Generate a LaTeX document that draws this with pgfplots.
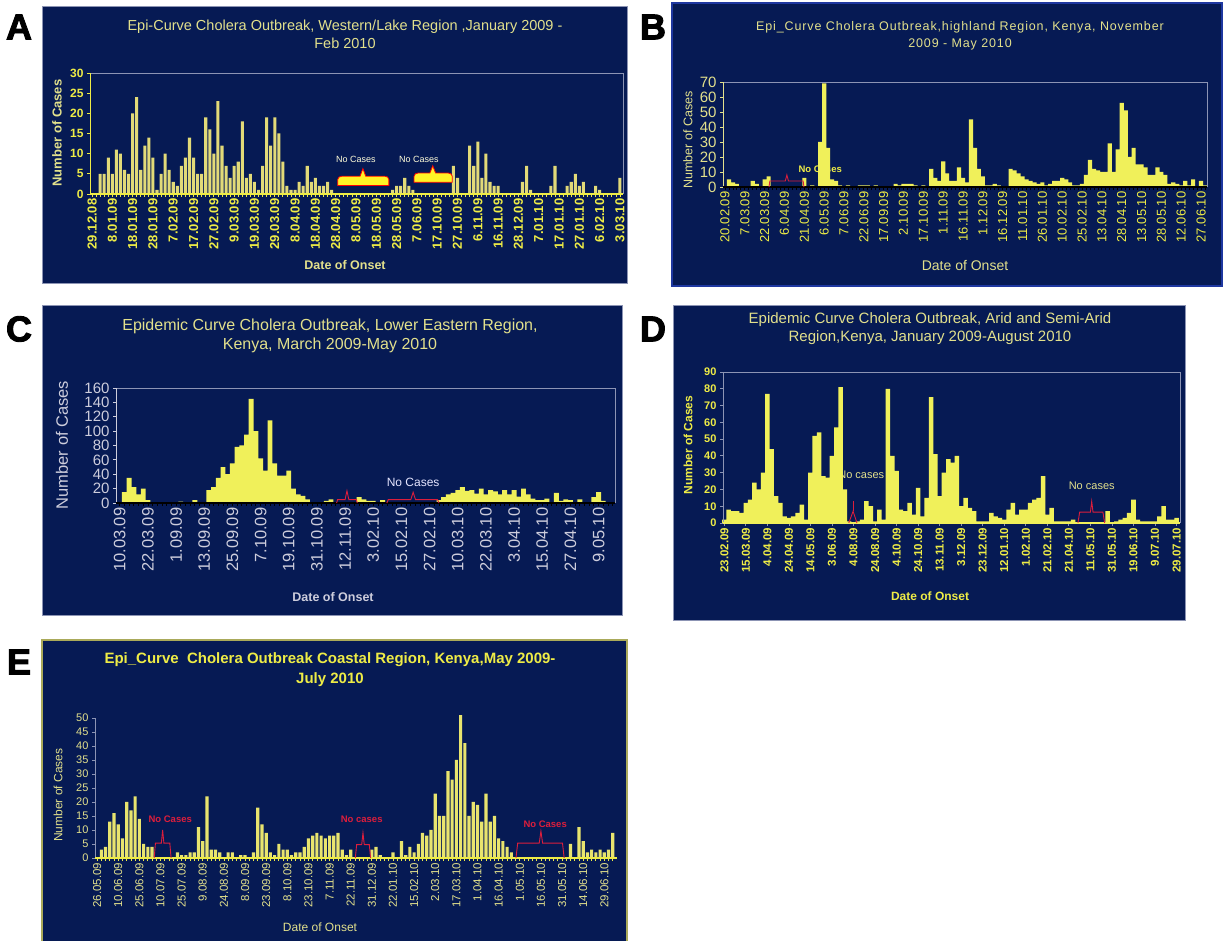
\documentclass[border=0pt]{standalone}
\usepackage{fontspec}
\setmainfont{Liberation Sans}
\usepackage{pgfplots}
\usepackage{pgfplotstable}
\pgfplotsset{compat=1.18}
\definecolor{navy}{RGB}{6,26,84}
\definecolor{baryel}{RGB}{240,240,90}
\definecolor{bara}{RGB}{226,218,120}
\definecolor{bare}{RGB}{232,228,110}
\definecolor{tityel}{RGB}{226,224,140}
\definecolor{tickyel}{RGB}{238,236,70}
\definecolor{framec}{RGB}{140,148,180}
\definecolor{nored}{RGB}{220,30,60}
\definecolor{ltgray}{RGB}{205,205,220}
\definecolor{boxblue}{RGB}{30,55,160}
\definecolor{boxolive}{RGB}{170,170,90}
\newcommand{\fs}[1]{\fontsize{#1}{#1}\selectfont}
\newcommand{\fsl}[2]{\fontsize{#1}{#2}\selectfont}
\newfontfamily\heavy{Liberation Sans}[FakeBold=2.5]

\pgfplotstableread[row sep=\\,header=false]{0\\0\\5\\5\\9\\5\\11\\10\\6\\5\\20\\24\\6\\12\\14\\9\\1\\5\\10\\6\\3\\2\\7\\9\\14\\9\\5\\5\\19\\16\\10\\23\\12\\7\\4\\7\\8\\18\\4\\5\\3\\1\\7\\19\\12\\19\\15\\8\\2\\1\\1\\3\\2\\7\\3\\4\\2\\2\\3\\1\\0\\0\\0\\0\\0\\0\\0\\0\\0\\0\\0\\0\\0\\0\\1\\2\\2\\4\\2\\1\\0\\0\\0\\0\\0\\0\\0\\0\\0\\7\\4\\0\\0\\12\\7\\13\\4\\10\\3\\2\\2\\0\\0\\0\\0\\0\\3\\7\\1\\0\\0\\0\\0\\2\\7\\0\\0\\2\\3\\5\\2\\3\\0\\0\\2\\1\\0\\0\\0\\0\\4\\}\dataA

\pgfplotstableread[row sep=\\,header=false]{0\\5\\3\\2\\0\\0\\0\\4\\2\\0\\5\\7\\0\\0\\0\\0\\0\\0\\0\\0\\6\\0\\1\\0\\30\\69\\26\\5\\4\\1\\0\\1\\0\\0\\1\\1\\1\\0\\1\\0\\0\\0\\0\\2\\1\\2\\2\\2\\1\\0\\1\\0\\12\\6\\4\\17\\9\\4\\4\\13\\6\\3\\45\\26\\12\\7\\1\\1\\2\\1\\0\\0\\12\\11\\9\\7\\5\\4\\3\\2\\3\\1\\2\\4\\4\\6\\5\\3\\1\\1\\2\\8\\18\\12\\11\\10\\10\\29\\10\\25\\56\\51\\20\\26\\15\\15\\13\\8\\8\\13\\10\\8\\2\\3\\2\\1\\4\\1\\5\\0\\4\\1\\}\dataB

\pgfplotstableread[row sep=\\,header=false]{0\\15\\35\\22\\12\\20\\4\\0\\0\\0\\0\\0\\0\\2\\0\\0\\4\\0\\0\\18\\22\\35\\50\\40\\55\\78\\80\\95\\145\\100\\62\\45\\115\\55\\38\\38\\45\\20\\12\\10\\5\\0\\0\\0\\3\\5\\0\\0\\0\\0\\0\\8\\5\\3\\3\\0\\4\\0\\0\\0\\0\\0\\0\\0\\0\\0\\0\\0\\4\\8\\12\\14\\18\\22\\17\\18\\13\\20\\12\\18\\16\\12\\18\\12\\18\\9\\20\\12\\6\\4\\4\\6\\1\\14\\3\\5\\4\\1\\5\\1\\1\\8\\15\\3\\0\\0\\}\dataC

\pgfplotstableread[row sep=\\,header=false]{2\\8\\7\\7\\6\\12\\14\\24\\20\\30\\77\\44\\16\\12\\4\\3\\4\\6\\11\\2\\30\\52\\54\\28\\27\\40\\57\\81\\20\\1\\0\\1\\2\\13\\10\\1\\8\\2\\80\\40\\31\\8\\7\\12\\5\\21\\4\\15\\75\\41\\16\\30\\38\\36\\40\\10\\15\\9\\7\\1\\1\\1\\6\\4\\3\\2\\8\\12\\5\\8\\8\\12\\14\\15\\28\\5\\9\\1\\1\\1\\1\\2\\0\\0\\0\\0\\0\\0\\0\\7\\0\\1\\2\\3\\6\\14\\2\\1\\1\\1\\1\\4\\10\\2\\2\\3\\}\dataD

\pgfplotstableread[row sep=\\,header=false]{0\\3\\4\\13\\16\\12\\7\\20\\17\\22\\14\\5\\4\\4\\0\\0\\0\\0\\0\\2\\1\\1\\2\\2\\11\\6\\22\\3\\3\\2\\0\\2\\2\\0\\1\\1\\0\\2\\18\\12\\9\\2\\1\\5\\3\\3\\1\\2\\2\\4\\7\\8\\9\\8\\7\\8\\8\\9\\3\\1\\3\\0\\0\\0\\0\\3\\4\\1\\0\\0\\2\\0\\6\\1\\4\\2\\5\\9\\8\\10\\23\\15\\15\\31\\28\\35\\51\\41\\15\\20\\19\\13\\23\\13\\15\\7\\6\\4\\2\\0\\0\\0\\0\\0\\0\\0\\0\\0\\0\\0\\0\\0\\5\\0\\11\\6\\2\\3\\2\\3\\2\\3\\9\\}\dataE

\pgfplotsset{
 epi/.style={scale only axis, anchor=south west, ymin=0, clip=false,
   axis line style={draw=none}, tick align=outside, tick pos=left,
   /pgf/number format/assume math mode=true,
   xticklabel style={rotate=90, anchor=east, inner sep=1.5pt},
   major tick length=3pt, minor tick length=3pt,
 },
}

\begin{document}
\begin{tikzpicture}[x=1pt,y=1pt]
\fill[white] (0,0) rectangle (1225,941);
\useasboundingbox (0,0) rectangle (1225,941);

% panel boxes
\filldraw[fill=navy, draw=framec, line width=0.8pt] (42,658) rectangle (627,935);
\filldraw[fill=navy, draw=boxblue, line width=2pt] (672,655) rectangle (1222,938);
\filldraw[fill=navy, draw=framec, line width=0.8pt] (42,326) rectangle (622,636);
\filldraw[fill=navy, draw=framec, line width=0.8pt] (673,321) rectangle (1185,636);
\filldraw[fill=navy, draw=boxolive, line width=1.2pt] (42,-3) rectangle (627,301);

% panel letters
\node[font=\heavy\bfseries\fs{36}] at (19,914) {A};
\node[font=\heavy\bfseries\fs{36}] at (653,914) {B};
\node[font=\heavy\bfseries\fs{36}] at (19,612) {C};
\node[font=\heavy\bfseries\fs{36}] at (653,612) {D};
\node[font=\heavy\bfseries\fs{36}] at (19,279) {E};

% ---------------- Panel A ----------------
\node[text=tityel, font=\fsl{14.5}{18}, align=center] at (345,907) {Epi-Curve Cholera Outbreak, Western/Lake Region ,January 2009 -\\Feb 2010};
\node[text=tityel, font=\bfseries\fs{13}, rotate=90] at (57,808) {Number of Cases};
\node[text=tityel, font=\bfseries\fs{12.5}] at (345,676) {Date of Onset};
\begin{axis}[epi, at={(90pt,747pt)}, width=533pt, height=121pt,
  xmin=-0.5, xmax=130.75, ymax=30, ytick={0,5,...,30},
  xtick={0,5,...,130},
  xticklabels={29.12.08,8.01.09,18.01.09,28.01.09,7.02.09,17.02.09,27.02.09,9.03.09,19.03.09,29.03.09,8.04.09,18.04.09,28.04.09,8.05.09,18.05.09,28.05.09,7.06.09,17.10.09,27.10.09,6.11.09,16.11.09,28.12.09,7.01.10,17.01.10,27.01.10,6.02.10,3.03.10},
  minor xtick={0,...,130},
  tick style={draw=tickyel, line width=0.8pt},
  xticklabel style={font=\bfseries\fs{13}, text=tickyel},
  yticklabel style={font=\bfseries\fs{12}, text=tickyel},
]
\addplot[ybar, bar width=0.75, fill=bara, draw=none] table[x expr=\coordindex, y index=0] {\dataA};
\draw[framec, line width=0.8pt] (rel axis cs:0,1) -- (rel axis cs:1,1) -- (rel axis cs:1,0);
\draw[tickyel, line width=1pt] (rel axis cs:0,0) -- (rel axis cs:0,1);
\draw[tickyel, line width=1.2pt] (rel axis cs:0,0) -- (rel axis cs:1,0);
\filldraw[fill=yellow!85!white, draw=red, line width=0.8pt] (60.5,2.1) -- (60.5,3.6) to[out=90,in=180] (61.5,4.4) -- (66,4.4) -- (66.7,6.3) -- (67.4,4.4) -- (72.1,4.4) to[out=0,in=90] (73.1,3.6) -- (73.1,2.1) -- cycle;
\filldraw[fill=yellow!85!white, draw=red, line width=0.8pt] (79.3,2.9) -- (79.3,4.4) to[out=90,in=180] (80.3,5.2) -- (83.2,5.2) -- (83.9,7) -- (84.6,5.2) -- (87.7,5.2) to[out=0,in=90] (88.7,4.4) -- (88.7,2.9) -- cycle;
\node[text=white!85!yellow, font=\fs{9}] at (65,8.6) {No Cases};
\node[text=white!85!yellow, font=\fs{9}] at (80.5,8.6) {No Cases};
\end{axis}

% ---------------- Panel B ----------------
\node[text=tityel, font=\fsl{12.5}{17}\addfontfeature{LetterSpace=7}, align=center] at (960,905.5) {Epi\_Curve Cholera Outbreak,highland Region, Kenya, November\\2009 - May 2010};
\node[text=tityel, font=\fs{12.5}, rotate=90] at (688,801) {Number of Cases};
\node[text=tityel, font=\fs{14}] at (965,675) {Date of Onset};
\begin{axis}[epi, at={(723pt,754pt)}, width=484pt, height=105pt,
  xmin=-0.5, xmax=121.5, ymax=70, ytick={0,10,...,70},
  xtick={0,5,...,120},
  xticklabels={20.02.09,7.03.09,22.03.09,6.04.09,21.04.09,6.05.09,7.06.09,22.06.09,17.09.09,2.10.09,17.10.09,1.11.09,16.11.09,1.12.09,16.12.09,11.01.10,26.01.10,10.02.10,25.02.10,13.04.10,28.04.10,13.05.10,28.05.10,12.06.10,27.06.10},
  minor xtick={0,...,121},
  tick style={draw=black, line width=0.8pt},
  every major y tick/.style={draw=tityel, line width=0.8pt},
  xticklabel style={font=\fs{13}, text=tickyel},
  yticklabel style={font=\fs{15}, text=tityel},
]
\node[text=tickyel, font=\bfseries\fs{9.5}] at (24,12) {No Cases};
\addplot[ybar, bar width=1.05, fill=baryel, draw=none] table[x expr=\coordindex, y index=0] {\dataB};
\draw[framec, line width=0.8pt] (rel axis cs:0,1) -- (rel axis cs:1,1) -- (rel axis cs:1,0);
\draw[tityel, line width=0.8pt] (rel axis cs:0,0) -- (rel axis cs:0,1);
\draw[black, line width=2.2pt] (rel axis cs:0,0) -- (rel axis cs:1,0);
\draw[nored, line width=0.9pt] (11.1,0) -- (11.3,4) -- (15.2,4) -- (15.6,8) -- (16,4) -- (19.7,4) -- (19.9,0);
\end{axis}

% ---------------- Panel C ----------------
\node[text=tityel, font=\fsl{16}{19}, align=center] at (330,605.5) {Epidemic Curve Cholera Outbreak, Lower Eastern Region,\\Kenya, March 2009-May 2010};
\node[text=ltgray, font=\fs{16.5}, rotate=90] at (62,496) {Number of Cases};
\node[text=ltgray, font=\bfseries\fs{12.5}] at (333,344) {Date of Onset};
\begin{axis}[epi, at={(116pt,438pt)}, width=499pt, height=115pt,
  xmin=-0.8, xmax=105.5, ymax=160, ytick={0,20,...,160},
  xtick={0,6,...,102},
  xticklabels={10.03.09,22.03.09,1.09.09,13.09.09,25.09.09,7.10.09,19.10.09,31.10.09,12.11.09,3.02.10,15.02.10,27.02.10,10.03.10,22.03.10,3.04.10,15.04.10,27.04.10,9.05.10},
  minor xtick={0,...,105},
  tick style={draw=black, line width=0.8pt},
  every major y tick/.style={draw=ltgray, line width=0.8pt},
  xticklabel style={font=\fs{16.5}, text=ltgray},
  yticklabel style={font=\fs{15}, text=ltgray},
]
\addplot[ybar, bar width=1.05, fill=baryel, draw=none] table[x expr=\coordindex, y index=0] {\dataC};
\draw[framec, line width=0.8pt] (rel axis cs:0,1) -- (rel axis cs:1,1) -- (rel axis cs:1,0);
\draw[ltgray, line width=0.8pt] (rel axis cs:0,0) -- (rel axis cs:0,1);
\draw[black, line width=2.2pt] (rel axis cs:0,0) -- (rel axis cs:1,0);
\draw[nored, line width=0.9pt] (46.2,0) -- (46.4,4.7) -- (48,4.7) -- (48.4,17) -- (48.8,4.7) -- (50.4,4.7) -- (50.6,0);
\draw[nored, line width=0.9pt] (56.9,0) -- (57.2,4.7) -- (62,4.7) -- (62.5,15) -- (63,4.7) -- (67.7,4.7) -- (68,0);
\node[text=white!90!blue, font=\fs{12}] at (62.5,28) {No Cases};
\end{axis}

% ---------------- Panel D ----------------
\node[text=tityel, font=\fsl{15}{18}, align=center] at (930,612) {Epidemic Curve Cholera Outbreak, Arid and Semi-Arid\\Region,Kenya, January 2009-August 2010};
\node[text=tickyel, font=\bfseries\fs{12}, rotate=90] at (688,496) {Number of Cases};
\node[text=tickyel, font=\bfseries\fs{12}] at (930,345) {Date of Onset};
\begin{axis}[epi, at={(723pt,418pt)}, width=457pt, height=151pt,
  xmin=-0.3, xmax=105.8, ymax=90, ytick={0,10,...,90},
  xtick={0,5,...,105},
  xticklabels={23.02.09,15.03.09,4.04.09,24.04.09,14.05.09,3.06.09,4.08.09,24.08.09,4.10.09,24.10.09,13.11.09,3.12.09,23.12.09,12.01.10,1.02.10,21.02.10,21.04.10,11.05.10,31.05.10,19.06.10,9.07.10,29.07.10},
  tick style={draw=framec, line width=0.8pt},
  xticklabel style={font=\bfseries\fs{11.5}, text=tickyel},
  yticklabel style={font=\bfseries\fs{11}, text=tickyel},
]
\node[text=tityel, font=\fs{11}] at (31.8,28.7) {No cases};
\addplot[ybar, bar width=1.05, fill=baryel, draw=none] table[x expr=\coordindex, y index=0] {\dataD};
\draw[framec, line width=0.8pt] (rel axis cs:0,1) -- (rel axis cs:1,1) -- (rel axis cs:1,0);
\draw[framec, line width=0.8pt] (rel axis cs:0,0) -- (rel axis cs:0,1);
\draw[baryel, line width=1.5pt] (rel axis cs:0,0) -- (rel axis cs:1,0);
\draw[nored, line width=0.9pt] (28.9,0) -- (29.9,7) -- (30.8,0);
\draw[nored, line width=0.9pt] (29.9,7) -- (29.9,13);
\draw[nored, line width=0.9pt] (82.1,0) -- (82.5,6.5) -- (85,6.5) -- (85.3,12.9) -- (85.6,6.5) -- (87.9,6.5) -- (88.3,0);
\node[text=tityel, font=\fs{11}] at (85.3,22) {No cases};
\end{axis}

% ---------------- Panel E ----------------
\node[text=tickyel, font=\bfseries\fsl{15}{20}, align=center] at (330,271) {Epi\_Curve\ \ Cholera Outbreak Coastal Region, Kenya,May 2009-\\July 2010};
\node[text=tityel, font=\fs{12}, rotate=90] at (58,146) {Number of Cases};
\node[text=tityel, font=\fs{12}] at (320,14) {Date of Onset};
\begin{axis}[epi, at={(95pt,83pt)}, width=522pt, height=140pt,
  xmin=-0.5, xmax=123, ymax=50, ytick={0,5,...,50},
  xtick={0,5,...,120},
  xticklabels={26.05.09,10.06.09,25.06.09,10.07.09,25.07.09,9.08.09,24.08.09,8.09.09,23.09.09,8.10.09,23.10.09,7.11.09,22.11.09,31.12.09,22.01.10,15.02.10,2.03.10,17.03.10,1.04.10,16.04.10,1.05.10,16.05.10,31.05.10,14.06.10,29.06.10},
  minor xtick={0,...,122},
  tick style={draw=tickyel, line width=0.8pt},
  every major y tick/.style={draw=framec, line width=0.8pt},
  xticklabel style={font=\fs{11.5}, text=tityel},
  yticklabel style={font=\fs{11}, text=tityel},
]
\addplot[ybar, bar width=0.75, fill=bare, draw=none] table[x expr=\coordindex, y index=0] {\dataE};
\draw[framec, line width=0.8pt] (rel axis cs:0,0) -- (rel axis cs:0,1);
\draw[tickyel, line width=1.2pt] (rel axis cs:0,0) -- (rel axis cs:1,0);
\draw[nored, line width=0.9pt] (13.5,0) -- (13.8,5.3) -- (15.2,5.3) -- (15.5,10) -- (15.8,5.3) -- (17.2,5.3) -- (17.5,0);
\draw[nored, line width=0.9pt] (61.1,0) -- (61.4,4.8) -- (62.6,4.8) -- (62.9,9) -- (63.2,4.8) -- (64.4,4.8) -- (64.7,0);
\draw[nored, line width=0.9pt] (99.1,0) -- (99.5,5.3) -- (104.6,5.3) -- (105,9.6) -- (105.4,5.3) -- (110.1,5.3) -- (110.5,0);
\node[text=nored, font=\bfseries\fs{9.5}] at (17.3,13.8) {No Cases};
\node[text=nored, font=\bfseries\fs{9.5}] at (62.6,13.8) {No cases};
\node[text=nored, font=\bfseries\fs{9.5}] at (106,12) {No Cases};
\end{axis}
\end{tikzpicture}
\end{document}
